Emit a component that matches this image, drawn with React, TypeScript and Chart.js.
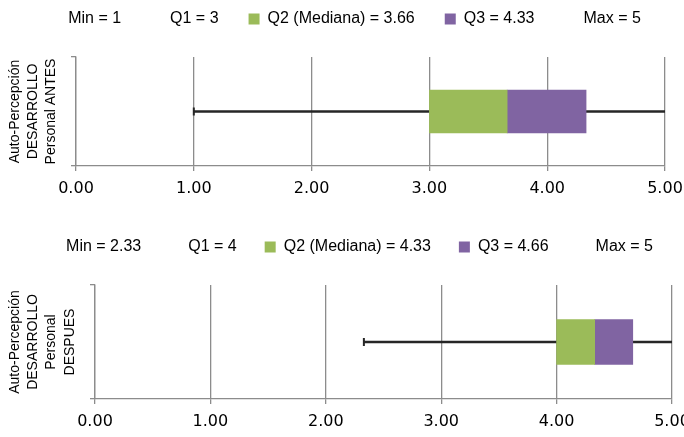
import React, { useEffect, useRef } from 'react';
import { Chart, registerables } from 'chart.js';

Chart.register(...registerables);

// ---- data ----
const statNames = ['Min', 'Q1', 'Q2 (Mediana)', 'Q3', 'Max'];
const antesValues = [1, 3, 3.66, 4.33, 5];
const despuesValues = [2.33, 4, 4.33, 4.66, 5];
const antesTitle = ['Auto-Percepción', 'DESARROLLO', 'Personal ANTES'];
const despuesTitle = ['Auto-Percepción', 'DESARROLLO', 'Personal', 'DESPUES'];
const xTickValues = [0, 1, 2, 3, 4, 5];
const categoryLabels = [''];

// ---- styles ----
const GREEN = '#9BBB59';
const PURPLE = '#8064A2';
const WHISKER = '#262626';
const GRID = '#8c8c8c';
const TEXT_FONT = "'Liberation Sans', Arial, sans-serif";
const TICK_FONT = "'DejaVu Sans', Verdana, sans-serif";

type PanelLayout = {
  padLeft: number;
  padTop: number;
  padBottom: number;
  plotRightGap: number;
  yWidth: number;
  titlePad: number;
  legendGap: number;
  legendPadding: number;
  boxThickness: number;
};

function makeConfig(values: number[], title: string[], L: PanelLayout): any {
  const [mn, q1, med, q3, mx] = values;
  return {
    type: 'bar',
    data: {
      labels: categoryLabels,
      datasets: [
        {
          label: statNames[2],
          data: [[q1, med]],
          backgroundColor: GREEN,
          barThickness: L.boxThickness,
          grouped: false,
        },
        {
          label: statNames[3],
          data: [[med, q3]],
          backgroundColor: PURPLE,
          barThickness: L.boxThickness,
          grouped: false,
        },
        {
          label: 'whisker-low',
          data: [[mn, q1]],
          backgroundColor: WHISKER,
          barThickness: 2,
          grouped: false,
        },
        {
          label: 'whisker-high',
          data: [[q3, mx]],
          backgroundColor: WHISKER,
          barThickness: 2,
          grouped: false,
        },
        {
          type: 'line',
          indexAxis: 'y',
          label: 'min-cap',
          data: [mn],
          showLine: false,
          pointStyle: 'line',
          pointRotation: 90,
          pointRadius: 4,
          pointBorderWidth: 2,
          pointBorderColor: WHISKER,
          borderColor: WHISKER,
          backgroundColor: WHISKER,
        },
      ],
    },
    options: {
      indexAxis: 'y',
      responsive: false,
      animation: false,
      events: [],
      layout: {
        padding: { left: L.padLeft, right: 0, top: L.padTop, bottom: L.padBottom },
      },
      plugins: {
        tooltip: { enabled: false },
        // empty title used only as a spacer between the legend and the plot
        title: {
          display: true,
          text: '',
          weight: 500,
          font: { size: 1, lineHeight: 1 },
          padding: { top: L.legendGap - 1, bottom: 0 },
        },
        legend: {
          display: true,
          position: 'top',
          align: 'center',
          onClick: () => {},
          labels: {
            boxWidth: 11,
            boxHeight: 11,
            padding: L.legendPadding,
            color: '#000',
            font: { family: TEXT_FONT, size: 16 },
            generateLabels: () =>
              statNames.map((n, i) => ({
                text: `${n} = ${values[i]}`,
                fillStyle: i === 2 ? GREEN : i === 3 ? PURPLE : 'rgba(0,0,0,0)',
                strokeStyle: 'rgba(0,0,0,0)',
                lineWidth: 0,
                hidden: false,
                fontColor: '#000',
                datasetIndex: i,
              })),
          },
        },
      },
      scales: {
        x: {
          type: 'linear',
          min: xTickValues[0],
          max: xTickValues[xTickValues.length - 1],
          afterBuildTicks: (s: any) => {
            s.ticks = xTickValues.map((v) => ({ value: v }));
          },
          afterFit: (s: any) => {
            s.paddingLeft = 0;
            s.paddingRight = L.plotRightGap;
            s.height = 34;
          },
          ticks: {
            color: '#000',
            font: { family: TICK_FONT, size: 16 },
            padding: 8,
            maxRotation: 0,
            callback: (v: any) => Number(v).toFixed(2),
          },
          grid: {
            color: GRID,
            lineWidth: 1.3,
            drawTicks: true,
            tickLength: 5,
            tickColor: GRID,
          },
          border: { color: GRID, width: 1.3 },
        },
        y: {
          type: 'category',
          afterFit: (s: any) => {
            s.width = L.yWidth;
          },
          ticks: { display: false },
          grid: {
            drawOnChartArea: false,
            drawTicks: true,
            tickLength: 5,
            offset: true,
            color: GRID,
            lineWidth: 1.3,
          },
          border: { color: GRID, width: 1.3 },
          title: {
            display: true,
            text: title,
            color: '#000',
            font: { family: TEXT_FONT, size: 14, lineHeight: 1.3 },
            padding: { top: L.titlePad, bottom: 0 },
          },
        },
      },
    },
  };
}

function Panel({
  values,
  title,
  layout,
  top,
  height,
}: {
  values: number[];
  title: string[];
  layout: PanelLayout;
  top: number;
  height: number;
}) {
  const ref = useRef<HTMLCanvasElement | null>(null);
  useEffect(() => {
    if (!ref.current) return;
    const chart = new Chart(ref.current, makeConfig(values, title, layout));
    return () => chart.destroy();
  }, []);
  return (
    <canvas
      ref={ref}
      width={684}
      height={height}
      style={{ position: 'absolute', left: 0, top, width: 684, height }}
    />
  );
}

export default function App() {
  useEffect(() => {
    document.body.style.margin = '0';
  }, []);
  return (
    <div
      style={{
        position: 'relative',
        width: 684,
        height: 437,
        overflow: 'hidden',
        background: '#fff',
      }}
    >
      <Panel
        values={antesValues}
        title={antesTitle}
        top={0}
        height={200}
        layout={{
          padLeft: 6,
          padTop: -19,
          padBottom: 0,
          plotRightGap: 19,
          yWidth: 70,
          titlePad: 0,
          legendGap: 20,
          legendPadding: 30,
          boxThickness: 43,
        }}
      />
      <Panel
        values={despuesValues}
        title={despuesTitle}
        top={200}
        height={237}
        layout={{
          padLeft: 16,
          padTop: 11,
          padBottom: 4,
          plotRightGap: 12,
          yWidth: 79,
          titlePad: -10,
          legendGap: 20,
          legendPadding: 28,
          boxThickness: 45,
        }}
      />
    </div>
  );
}
